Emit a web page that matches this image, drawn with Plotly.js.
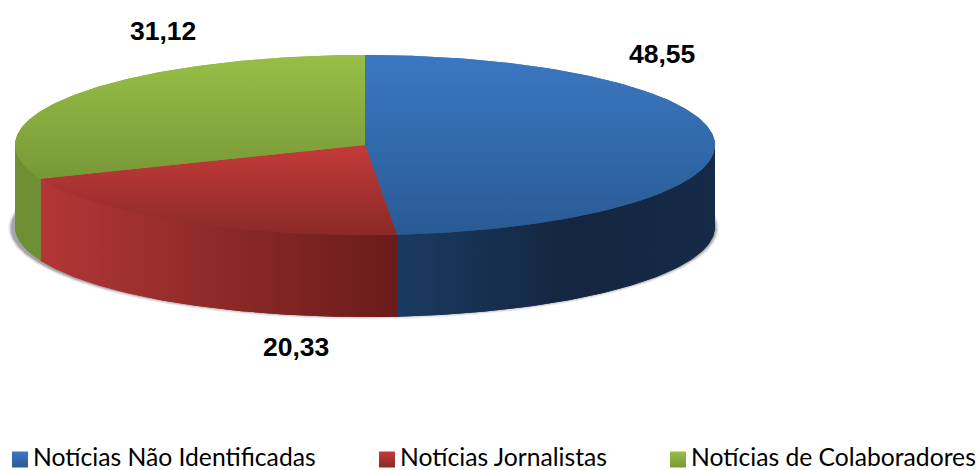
<!DOCTYPE html>
<html>
<head>
<meta charset="utf-8">
<script src="https://cdn.plot.ly/plotly-3.0.1.min.js"></script>
<style>html,body{margin:0;padding:0;background:#fff}#c{width:979px;height:470px}</style>
</head>
<body>
<div id="c"></div>
<script>
const categories = ["Notícias Não Identificadas", "Notícias Jornalistas", "Notícias de Colaboradores"];
const values = [48.55, 20.33, 31.12];

const labelPos = [[662, 54], [296, 347], [163, 31]];
const legendSwatchX = [20, 387, 678];
const legendTextX = [34, 401, 692];
const topColors = [["#3b78c2", "#295a94"], ["#c43b39", "#8a2a27"], ["#97bf46", "#789838"]];
const wallColors = [
  [[0, "#1a3a62"], [0.55, "#14263f"], [1, "#152a47"]],
  [[0, "#b23736"], [1, "#691c1a"]],
  [[0, "#6d8e33"], [1, "#6f9034"]]
];
const swatchColors = ["#3b78c2", "#c43b39", "#97bf46"];
const shadowRings = [["#f1f1f1", 355.5, 91.5], ["#dedee0", 354.5, 90.5], ["#c2c2c6", 353.5, 89.5], ["#a4a4aa", 352.5, 88.5]];

const cx = 365, cy = 145, rx = 350, ry = 90, depth = 82;
const total = values.reduce((a, b) => a + b, 0);
const px = a => cx + rx * Math.sin(a);
const py = a => cy - ry * Math.cos(a);
const arc = (a0, a1) => {
  const n = Math.max(2, Math.ceil(Math.abs(a1 - a0) * 80)), out = [];
  for (let i = 0; i <= n; i++) out.push(a0 + (a1 - a0) * i / n);
  return out;
};

const traces = [];
shadowRings.forEach(([col, a, b]) => {
  const t = arc(0, 2 * Math.PI);
  traces.push({
    type: "scatter", mode: "lines", fill: "toself", fillcolor: col,
    x: t.map(v => 363.5 + a * Math.sin(v)),
    y: t.map(v => 228 - b * Math.cos(v)),
    line: { width: 0 }, hoverinfo: "skip", showlegend: false
  });
});

let start = 0;
const slices = values.map(v => {
  const s = { a0: start, a1: start + v / total * 2 * Math.PI };
  start = s.a1;
  return s;
});

// side walls (only the front half of the rim is visible)
const wallTrace = (s, i, eps) => {
  const lo0 = Math.max(s.a0, Math.PI / 2), hi0 = Math.min(s.a1, 3 * Math.PI / 2);
  if (hi0 <= lo0) return null;
  const lo = Math.max(lo0 - eps, Math.PI / 2), hi = Math.min(hi0 + eps, 3 * Math.PI / 2);
  const t = arc(lo, hi), xs = t.map(px), ys = t.map(py);
  return {
    type: "scatter", mode: "lines", fill: "toself", name: categories[i],
    x: xs.concat(xs.slice().reverse(), [xs[0]]),
    y: ys.map(y => y - 3).concat(ys.slice().reverse().map(y => y + depth), [ys[0] - 3]),
    line: { width: 0 }, hoverinfo: "skip", showlegend: false,
    fillgradient: {
      type: "horizontal",
      start: px(hi0),
      stop: px(lo0),
      colorscale: wallColors[i]
    }
  };
};
slices.forEach((s, i) => { const w = wallTrace(s, i, 0.008); if (w) traces.push(w); });
slices.forEach((s, i) => { const w = wallTrace(s, i, 0); if (w) traces.push(w); });

// top faces: a slightly enlarged underlay closes the seams between neighbours
const topTrace = (s, i, eps, shift) => {
  const t = arc(s.a0 - eps, s.a1 + eps);
  const ym0 = Math.min(cy, ...arc(s.a0, s.a1).map(py)), ym1 = Math.max(cy, ...arc(s.a0, s.a1).map(py));
  const mid = (s.a0 + s.a1) / 2;
  const ax = cx - shift * Math.sin(mid), ay = cy + shift * Math.cos(mid);
  return {
    type: "scatter", mode: "lines", fill: "toself", name: categories[i],
    x: [ax].concat(t.map(px), [ax]), y: [ay].concat(t.map(py), [ay]),
    line: { width: 0 }, hoverinfo: "skip", showlegend: false,
    fillgradient: {
      type: "vertical", start: ym0, stop: ym1,
      colorscale: [[0, topColors[i][0]], [1, topColors[i][1]]]
    }
  };
};
slices.forEach((s, i) => traces.push(topTrace(s, i, 0.003, 1.5)));
slices.forEach((s, i) => traces.push(topTrace(s, i, 0, 0)));

// legend swatches
categories.forEach((c, i) => {
  traces.push({
    type: "scatter", mode: "markers", x: [legendSwatchX[i]], y: [459.5],
    marker: {
      symbol: "square", size: 16, color: swatchColors[i], line: { width: 0 },
      gradient: { type: "vertical", color: topColors[i][1] }
    },
    hoverinfo: "skip", showlegend: false
  });
});

const annotations = [];
values.forEach((v, i) => {
  annotations.push({
    x: labelPos[i][0], y: labelPos[i][1], xref: "x", yref: "y", showarrow: false,
    text: v.toFixed(2).replace(".", ","),
    font: { family: "Liberation Sans, Arial, sans-serif", size: 26.5, color: "#000", weight: 700 }
  });
});
categories.forEach((c, i) => {
  annotations.push({
    x: legendTextX[i], y: 456, xref: "x", yref: "y", showarrow: false, xanchor: "left",
    text: c, xshift: -2, height: 26, borderpad: 0,
    font: { family: "Lato, sans-serif", size: 24.7, color: "#000" }
  });
});

Plotly.newPlot("c", traces, {
  width: 979, height: 470,
  margin: { l: 0, r: 0, t: 0, b: 0, pad: 0 },
  paper_bgcolor: "#fff", plot_bgcolor: "#fff",
  showlegend: false,
  xaxis: { range: [0, 979], visible: false, fixedrange: true },
  yaxis: { range: [470, 0], visible: false, fixedrange: true },
  annotations
}, { staticPlot: true, displayModeBar: false });
</script>
</body>
</html>
